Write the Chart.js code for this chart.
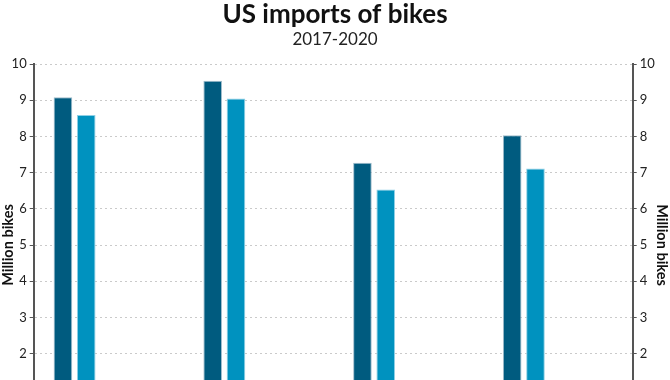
<!DOCTYPE html>
<html>
<head>
<meta charset="utf-8">
<script src="https://cdn.jsdelivr.net/npm/chart.js@4/dist/chart.umd.min.js"></script>
<style>
  html, body { margin: 0; padding: 0; background: #fff; overflow: hidden; }
  #wrap { position: relative; width: 670px; height: 460px; }
</style>
</head>
<body>
<div id="wrap"><canvas id="c"></canvas></div>
<script>
// ---- data ----
const categories = ['2017', '2018', '2019', '2020'];
const seriesNames = ['Series 1', 'Series 2'];
const series1 = [9.08, 9.54, 7.27, 8.03];
const series2 = [8.59, 9.05, 6.53, 7.11];
const yTicks = [0, 1, 2, 3, 4, 5, 6, 7, 8, 9, 10];

const FONT = 'Lato, "Noto Sans", sans-serif';
const axisColor = '#555';

const toPoints = arr => arr.map((v, i) => ({ x: i, y: v }));

new Chart(document.getElementById('c'), {
  type: 'bar',
  data: {
    datasets: [
      { label: seriesNames[0], data: toPoints(series1), backgroundColor: '#005B7F', borderColor: '#9fbccb', borderWidth: 1, xAxisID: 'x', yAxisID: 'y' },
      { label: seriesNames[1], data: toPoints(series2), backgroundColor: '#0092BF', borderColor: '#8fd0e6', borderWidth: 1, xAxisID: 'x', yAxisID: 'y' }
    ]
  },
  options: {
    responsive: true,
    maintainAspectRatio: false,
    animation: false,
    categoryPercentage: 0.311,
    barPercentage: 0.8,
    layout: { padding: 0 },
    plugins: {
      legend: { display: false },
      tooltip: { enabled: false },
      title: {
        display: true, text: 'US imports of bikes', color: '#111',
        font: { family: FONT, size: 26, weight: 'bold', lineHeight: 1.1 },
        padding: { top: 0, bottom: 0 }
      },
      subtitle: {
        display: true, text: '2017-2020', color: '#222',
        font: { family: FONT, size: 17, lineHeight: 1.2 },
        padding: { top: 1, bottom: 14 }
      }
    },
    scales: {
      x: {
        type: 'linear', position: 'bottom', offset: false,
        min: -0.273, max: 3.727,
        afterBuildTicks: s => { s.ticks = categories.map((c, i) => ({ value: i })); },
        afterFit: s => { s.height = 34; },
        ticks: { callback: v => categories[v], font: { family: FONT, size: 13 }, color: '#222' },
        grid: { display: false },
        border: { display: true, color: axisColor, width: 2 }
      },
      y: {
        position: 'left', min: 0, max: 10,
        afterBuildTicks: s => { s.ticks = yTicks.map(v => ({ value: v })); },
        afterFit: s => { s.width = 33.7; },
        ticks: { font: { family: FONT, size: 13 }, color: '#222', padding: 3 },
        grid: { color: '#cacaca', lineWidth: 1, tickLength: 4, tickColor: axisColor, drawTicks: true },
        border: { display: true, color: axisColor, width: 2, dash: [2, 3] },
        title: { display: true, text: 'Million bikes', color: '#111', font: { family: FONT, size: 14.5, weight: 'bold', lineHeight: 1.2 }, padding: { top: 0, bottom: 0 } }
      },
      y2: {
        position: 'right', min: 0, max: 10,
        afterBuildTicks: s => { s.ticks = yTicks.map(v => ({ value: v })); },
        afterFit: s => { s.width = 37.3; },
        ticks: { font: { family: FONT, size: 13 }, color: '#222', padding: 3 },
        grid: { drawOnChartArea: false, tickLength: 4, tickColor: axisColor },
        border: { display: true, color: axisColor, width: 2 },
        title: { display: true, text: 'Million bikes', color: '#111', font: { family: FONT, size: 14.5, weight: 'bold', lineHeight: 1.2 }, padding: { top: 0, bottom: 0 } }
      }
    }
  }
});
</script>
</body>
</html>
